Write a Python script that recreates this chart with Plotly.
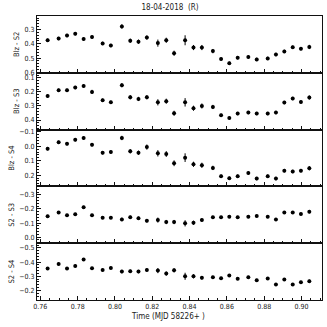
import plotly.graph_objects as go
from plotly.subplots import make_subplots

FONT = "Liberation Sans Narrow, DejaVu Sans Condensed, Liberation Sans, sans-serif"

# time (MJD 58226+)
t = [0.7639, 0.7698, 0.7743, 0.7787, 0.7832, 0.7877, 0.7934, 0.7978, 0.8037, 0.8082,
     0.8126, 0.8171, 0.8230, 0.8275, 0.8317, 0.8376, 0.8421, 0.8466, 0.8525, 0.8569,
     0.8613, 0.8658, 0.8715, 0.8760, 0.8819, 0.8863, 0.8908, 0.8953, 0.8997, 0.9042]

blz_s2 = [0.375, 0.363, 0.342, 0.329, 0.366, 0.353, 0.397, 0.412, 0.278, 0.378,
          0.385, 0.356, 0.395, 0.375, 0.466, 0.375, 0.426, 0.426, 0.451, 0.507,
          0.536, 0.497, 0.492, 0.509, 0.502, 0.475, 0.453, 0.424, 0.434, 0.422]
blz_s3 = [0.229, 0.188, 0.188, 0.169, 0.157, 0.200, 0.259, 0.274, 0.152, 0.238,
          0.250, 0.238, 0.274, 0.266, 0.352, 0.274, 0.316, 0.300, 0.307, 0.366,
          0.386, 0.354, 0.347, 0.354, 0.354, 0.347, 0.276, 0.247, 0.271, 0.240]
blz_s4 = [0.017, -0.027, -0.017, -0.045, -0.057, -0.010, 0.045, 0.040, -0.057, 0.035,
          0.045, 0.006, 0.049, 0.054, 0.118, 0.079, 0.125, 0.132, 0.150, 0.207,
          0.221, 0.207, 0.186, 0.224, 0.207, 0.224, 0.169, 0.175, 0.169, 0.152]
s2_s3 = [-0.148, -0.174, -0.155, -0.162, -0.212, -0.155, -0.138, -0.138, -0.126, -0.141,
         -0.134, -0.116, -0.121, -0.107, -0.107, -0.098, -0.102, -0.121, -0.141, -0.141,
         -0.145, -0.141, -0.145, -0.150, -0.145, -0.126, -0.174, -0.174, -0.164, -0.181]
s2_s4 = [-0.354, -0.387, -0.354, -0.373, -0.418, -0.356, -0.345, -0.359, -0.333, -0.335,
         -0.333, -0.345, -0.340, -0.319, -0.342, -0.300, -0.300, -0.289, -0.293, -0.286,
         -0.305, -0.283, -0.293, -0.272, -0.284, -0.242, -0.277, -0.242, -0.258, -0.265]

err_s2 = [0.012, 0.012, 0.012, 0.012, 0.012, 0.012, 0.012, 0.012, 0.015, 0.015,
          0.015, 0.015, 0.025, 0.018, 0.018, 0.035, 0.018, 0.018, 0.015, 0.012,
          0.012, 0.012, 0.012, 0.012, 0.012, 0.012, 0.012, 0.012, 0.012, 0.015]
err_s3 = [0.012, 0.012, 0.012, 0.012, 0.012, 0.015, 0.012, 0.012, 0.015, 0.015,
          0.015, 0.015, 0.022, 0.018, 0.018, 0.030, 0.018, 0.018, 0.015, 0.012,
          0.012, 0.012, 0.012, 0.012, 0.012, 0.012, 0.012, 0.012, 0.012, 0.015]
err_s4 = [0.012, 0.012, 0.012, 0.012, 0.012, 0.012, 0.012, 0.012, 0.015, 0.015,
          0.015, 0.018, 0.022, 0.020, 0.020, 0.030, 0.018, 0.018, 0.015, 0.012,
          0.012, 0.012, 0.012, 0.012, 0.012, 0.012, 0.012, 0.012, 0.012, 0.015]
err_23 = [0.010, 0.010, 0.010, 0.010, 0.010, 0.010, 0.010, 0.010, 0.012, 0.012,
          0.012, 0.012, 0.018, 0.015, 0.015, 0.022, 0.015, 0.012, 0.010, 0.010,
          0.010, 0.010, 0.010, 0.010, 0.010, 0.010, 0.010, 0.010, 0.010, 0.012]
err_24 = [0.010, 0.010, 0.010, 0.010, 0.010, 0.010, 0.010, 0.010, 0.012, 0.012,
          0.012, 0.012, 0.018, 0.015, 0.015, 0.025, 0.015, 0.012, 0.010, 0.010,
          0.010, 0.010, 0.010, 0.010, 0.010, 0.010, 0.010, 0.010, 0.010, 0.012]

panels = [
    ("Blz - S2", blz_s2, err_s2, [0.603, 0.205]),
    ("Blz - S3", blz_s3, err_s3, [0.468, 0.064]),
    ("Blz - S4", blz_s4, err_s4, [0.278, -0.115]),
    ("S2 - S3", s2_s3, err_23, [0.043, -0.36]),
    ("S2 - S4", s2_s4, err_24, [-0.133, -0.533]),
]

fig = make_subplots(rows=5, cols=1, shared_xaxes=True, vertical_spacing=0)

for i, (name, vals, err, rng) in enumerate(panels, start=1):
    fig.add_trace(
        go.Scatter(
            x=t, y=vals, mode="markers",
            marker=dict(color="black", size=4),
            error_y=dict(type="data", array=err, color="black", thickness=1, width=0),
            showlegend=False,
        ),
        row=i, col=1,
    )
    fig.update_yaxes(
        title=dict(text=name, font=dict(size=7.5, family=FONT, color="#222"), standoff=3),
        range=rng, dtick=0.1, tickformat=".1f",
        row=i, col=1,
    )

fig.update_yaxes(
    automargin=False,
    showline=True, linecolor="#111", linewidth=1, mirror=True,
    ticks="inside", ticklen=4, tickcolor="#111", showgrid=False, zeroline=False,
    minor=dict(ticks="inside", dtick=0.02, ticklen=2, tickcolor="#111"),
    tickfont=dict(size=7, family=FONT, color="#222"),
)
fig.update_xaxes(
    automargin=False,
    range=[0.7582, 0.911], dtick=0.02, tickformat=".2f",
    showline=True, linecolor="#111", linewidth=1, mirror=True,
    ticks="inside", ticklen=4, tickcolor="#111", showgrid=False, zeroline=False,
    minor=dict(ticks="inside", dtick=0.005, ticklen=2, tickcolor="#111"),
    tickfont=dict(size=7, family=FONT, color="#222"),
)

fig.update_layout(
    width=327, height=327,
    margin=dict(l=37, r=5, t=16, b=27),
    paper_bgcolor="white", plot_bgcolor="white",
    hovermode=False,
    title=dict(text="18-04-2018  (R)", x=0.52, xanchor="center", y=0.978, yanchor="middle",
               font=dict(size=8, family=FONT, color="#222")),
    annotations=[
        dict(text="Time (MJD 58226+ )", xref="paper", yref="paper", x=0.46, y=-0.058,
             xanchor="center", yanchor="middle", showarrow=False,
             font=dict(size=8, family=FONT, color="#222")),
    ],
)

# drop the browser's default 8px body margin so the figure sits at the page corner
fig.write_html("out.html", config={"displayModeBar": False},
               post_script="document.body.style.margin = '0';")
